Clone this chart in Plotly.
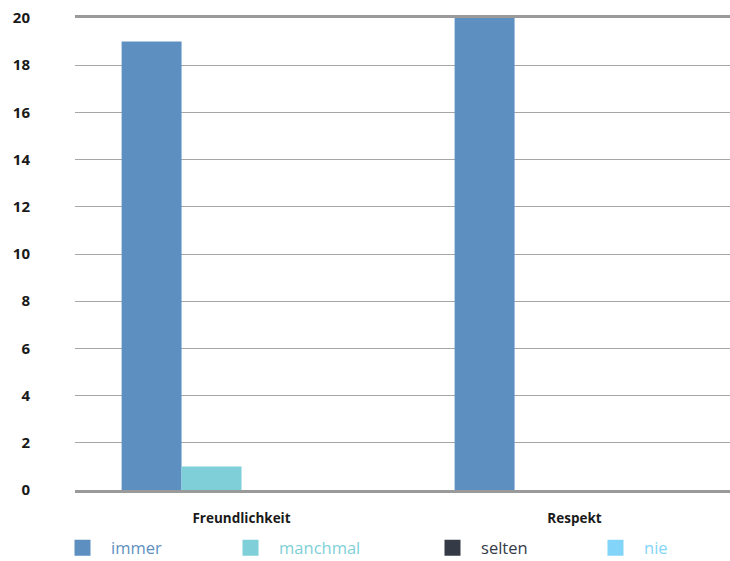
import plotly.graph_objects as go

categories = ["Freundlichkeit", "Respekt"]
series_names = ["immer", "manchmal", "selten", "nie"]
immer = [19, 20]
manchmal = [1, 0]
selten = [0, 0]
nie = [0, 0]
y_ticks = list(range(0, 21, 2))

colors = ["#5d8fc0", "#7ecfd8", "#343b47", "#82d5f8"]
text_colors = ["#5d8fc0", "#7ecfd8", "#343b47", "#82d5f8"]
values = [immer, manchmal, selten, nie]
legend_ids = ["legend", "legend2", "legend3", "legend4"]
legend_x_px = [62.5, 230.5, 432.5, 595.5]

fig = go.Figure()
for name, vals, c in zip(series_names, values, colors):
    fig.add_trace(go.Bar(x=categories, y=vals, name=name, marker=dict(color=c, line=dict(width=0)),
                         showlegend=False))
for name, c, tc, lid in zip(series_names, colors, text_colors, legend_ids):
    fig.add_trace(go.Scatter(x=[None], y=[None], mode="markers",
                             name=f"<span style='color:{tc}'>\u00a0\u00a0{name}</span>",
                             marker=dict(symbol="square", size=19, color=c), showlegend=True, legend=lid))

legend_common = dict(orientation="h", xref="container", yref="container", y=(561-548)/561,
                     xanchor="left", yanchor="middle", font=dict(size=16.5), itemsizing="trace",
                     bgcolor="rgba(0,0,0,0)")
layout_legends = {lid: dict(legend_common, x=px/730) for lid, px in zip(legend_ids, legend_x_px)}

fig.update_layout(
    width=730, height=561,
    margin=dict(l=75, r=0, t=18, b=71),
    paper_bgcolor="white", plot_bgcolor="white",
    barmode="group", bargap=0.28, bargroupgap=0,
    font=dict(family="Open Sans, DejaVu Sans, sans-serif", color="#1a1a1a"),
    xaxis=dict(type="category", range=[-0.5, 655/333 - 0.5], showgrid=False, showline=True, mirror=True,
               linecolor="#9a9a9a", linewidth=3, ticks="", ticklabelstandoff=14,
               tickfont=dict(size=13.5, weight="bold", color="#1a1a1a")),
    yaxis=dict(range=[0, 20], tickvals=y_ticks, showgrid=True, gridcolor="#a6a6a6", gridwidth=1,
               zeroline=False, ticks="", ticklabelstandoff=44,
               tickfont=dict(size=15, weight="bold", color="#1a1a1a")),
    **layout_legends,
)

fig.write_html("out.html")
